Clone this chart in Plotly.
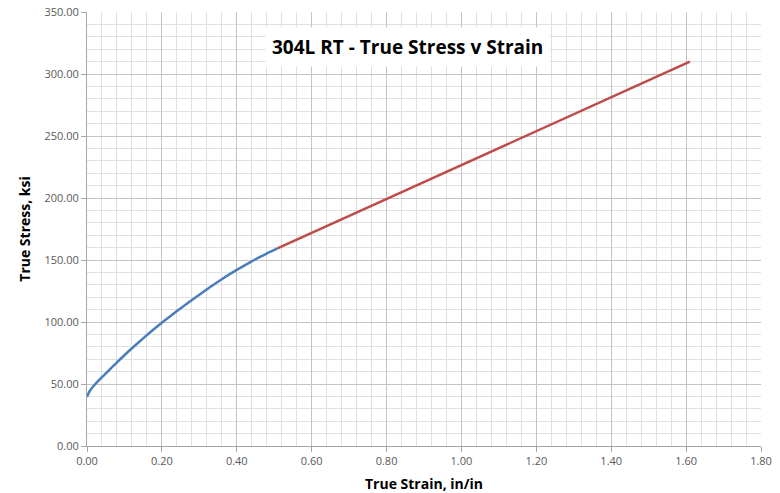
import plotly.graph_objects as go

strain_blue = [0, 0.005, 0.01, 0.02, 0.04, 0.06, 0.08, 0.10, 0.12, 0.15, 0.18, 0.21, 0.24, 0.27, 0.30, 0.33, 0.36, 0.39, 0.42, 0.45, 0.48, 0.51]
stress_blue = [39.5, 43, 45.5, 49.2, 55.5, 61.5, 67.5, 73.2, 78.8, 86.8, 94.5, 101.8, 108.8, 115.5, 122, 128.4, 134.5, 140.2, 145.5, 150.6, 155.2, 159.5]
strain_red = [0.51, 1.0, 1.61]
stress_red = [159.5, 226.5, 310]

title_text = "304L RT - True Stress v Strain"
x_title = "True Strain, in/in"
y_title = "True Stress, ksi"

fig = go.Figure()
fig.add_trace(go.Scatter(x=strain_blue, y=stress_blue, mode="lines",
                         line=dict(color="#4a7ebb", width=2.5, shape="spline", smoothing=0.6), showlegend=False))
fig.add_trace(go.Scatter(x=strain_red, y=stress_red, mode="lines",
                         line=dict(color="#be4b48", width=2.5), showlegend=False))

axis_common = dict(showgrid=True, gridcolor="#c4c4c4", gridwidth=1,
                   showline=True, linecolor="#a6a6a6", linewidth=1,
                   ticks="outside", ticklen=5, tickcolor="#a6a6a6",
                   tickfont=dict(family="Open Sans, sans-serif", size=11, color="#595959"),
                   zeroline=False, tickformat=".2f", automargin=False,
                   ticklabeloverflow="allow")

fig.update_xaxes(range=[0, 1.8], dtick=0.2, tick0=0,
                 minor=dict(dtick=0.04, showgrid=True, gridcolor="#e0e0e0", ticks=""),
                 title=dict(text="<b>" + x_title + "</b>", font=dict(family="Open Sans, sans-serif", size=14, color="black"), standoff=12),
                 **axis_common)
fig.update_yaxes(range=[0, 350], dtick=50, tick0=0,
                 minor=dict(dtick=10, showgrid=True, gridcolor="#e0e0e0", ticks=""),
                 title=dict(text="<b>" + y_title + "</b>", font=dict(family="Open Sans, sans-serif", size=14, color="black"), standoff=10),
                 **axis_common)

fig.add_annotation(x=0.476, y=0.919, xref="paper", yref="paper", xanchor="center", yanchor="middle",
                   text="<b>" + title_text + "</b>",
                   showarrow=False, bgcolor="white", borderpad=6,
                   font=dict(family="Open Sans, sans-serif", size=19, color="black"))

fig.update_layout(width=780, height=493, plot_bgcolor="white", paper_bgcolor="white",
                  margin=dict(l=87, r=19, t=12, b=47))

fig.write_html("out.html", config={"displayModeBar": False},
               post_script="document.body.style.margin='0';")
